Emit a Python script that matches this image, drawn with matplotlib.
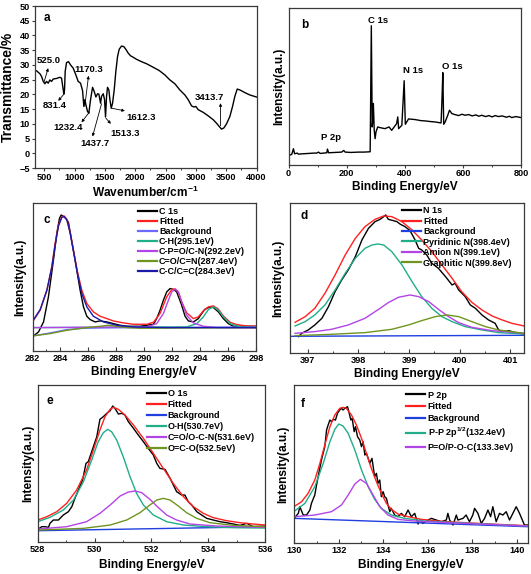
import matplotlib
matplotlib.use('Agg')
import matplotlib.pyplot as plt
from matplotlib.ticker import MultipleLocator

plt.rcParams['font.family'] = ['Liberation Sans', 'DejaVu Sans']
plt.rcParams['font.weight'] = 'bold'
plt.rcParams['axes.labelweight'] = 'bold'
plt.rcParams['mathtext.fontset'] = 'custom'
plt.rcParams['mathtext.rm'] = 'Liberation Sans:bold'
plt.rcParams['mathtext.bf'] = 'Liberation Sans:bold'
plt.rcParams['mathtext.default'] = 'bf'

# ---------------- data: (a) FTIR ----------------
ftir_wn = [374, 429, 456, 484, 511, 538, 566, 593, 621, 648, 703, 758, 786, 802, 824, 835, 846, 868, 901, 934,
           978, 1022, 1060, 1099, 1132, 1154, 1170, 1187, 1214, 1236, 1264, 1297, 1324, 1352, 1379, 1401, 1429,
           1445, 1473, 1495, 1511, 1528, 1544, 1566, 1583, 1605, 1627, 1654, 1681, 1709, 1736, 1775, 1813, 1846,
           1885, 1923, 1967, 2022, 2104, 2187, 2297, 2396, 2489, 2572, 2654, 2736, 2819, 2874, 2929, 2967, 3000,
           3039, 3121, 3204, 3286, 3341, 3385, 3424, 3462, 3506, 3561, 3605, 3643, 3682, 3726, 3808, 3890, 4000]
ftir_T = [28.0, 27.0, 26.1, 24.4, 23.6, 24.4, 23.8, 24.9, 24.4, 25.2, 25.4, 25.8, 25.5, 23.2, 20.1, 21.5, 27.8,
          30.8, 31.1, 30.0, 28.9, 26.6, 24.4, 23.8, 21.3, 15.9, 18.2, 16.5, 14.2, 13.6, 18.2, 22.4, 21.0, 19.1,
          20.2, 20.1, 17.0, 19.3, 20.2, 18.2, 12.3, 19.3, 22.4, 21.5, 18.2, 15.3, 17.0, 21.5, 27.8, 32.8, 35.3,
          36.4, 36.2, 35.3, 34.0, 33.1, 32.6, 31.9, 31.1, 30.4, 29.2, 28.1, 26.6, 24.9, 23.6, 21.5, 19.8, 18.2,
          16.1, 15.7, 15.9, 14.8, 13.9, 12.7, 11.4, 10.2, 9.1, 8.2, 8.6, 10.0, 12.5, 15.9, 19.3, 21.8, 21.5,
          20.6, 19.8, 19.1]
ftir_labels = ['525.0', '831.4', '1170.3', '1232.4', '1437.7', '1513.3', '1612.3', '3413.7']
ftir_label_xy = [(566, 31.4), (676, 16.1), (1242, 28.3), (896, 8.9), (1335, 3.25), (1830, 6.6), (2105, 12.3), (3215, 18.9)]
ftir_arrow_from = [(500, 24.4), (830, 20.2), (1170, 16.1), (1242, 13.9), (1445, 16.8), (1517, 11.9), (1610, 15.3), (3407, 9.35)]
ftir_arrow_to = [(566, 28.9), (731, 17.8), (1231, 26.3), (1115, 10.5), (1297, 5.7), (1599, 10.0), (1830, 14.4), (3407, 17.0)]

# ---------------- data: (b) survey ----------------
surv_be = [0, 11, 17, 21, 30, 34, 50, 69, 85, 97, 103, 109, 120, 132, 134, 138, 160, 183, 190, 195, 215, 241,
           260, 281, 285, 288, 290, 292, 295, 298, 301, 307, 315, 332, 346, 355, 372, 376, 379, 390, 398, 402,
           413, 436, 455, 470, 490, 504, 525, 528, 531, 534, 539, 548, 554, 562, 572, 585, 597, 607, 620, 632,
           645, 655, 665, 678, 690, 700, 712, 722, 735, 750, 760, 768, 782, 800]
surv_I = [27, 30, 47, 32, 34, 31, 32, 33, 34, 34, 37, 33, 34, 35, 46, 35, 36, 37, 42, 37, 36, 37, 37, 38, 414,
          112, 132, 182, 102, 77, 97, 112, 110, 107, 112, 102, 122, 142, 107, 117, 250, 120, 136, 134, 131, 130,
          128, 127, 124, 192, 274, 120, 127, 147, 162, 152, 149, 146, 150, 147, 149, 145, 148, 144, 147, 143, 146,
          142, 146, 143, 145, 141, 144, 140, 143, 140]
surv_peaks = ['C 1s', 'N 1s', 'O 1s', 'P 2p']
surv_peak_xy = [(309, 430), (430, 280), (565, 292), (147, 80)]

# ---------------- data: (c) C 1s ----------------
c_raw_x = [282.07, 282.43, 282.79, 283.14, 283.50, 283.74, 283.93, 284.05, 284.22, 284.41, 284.58, 284.69, 285.05,
           285.41, 285.65, 285.89, 286.13, 286.48, 286.84, 287.32, 287.79, 288.27, 288.75, 289.70, 290.18, 290.66,
           290.89, 291.13, 291.37, 291.61, 291.85, 292.09, 292.32, 292.68, 292.92, 293.16, 293.52, 293.87, 294.11,
           294.35, 294.71, 294.95, 295.31, 295.66, 296.02, 296.37, 297.09, 298.00]
c_raw_y = [45, 57, 87, 162, 272, 352, 397, 407, 403, 396, 384, 357, 272, 182, 132, 104, 94, 87, 90, 87, 82, 77,
           74, 74, 77, 80, 97, 122, 152, 177, 187, 184, 177, 137, 104, 90, 87, 97, 112, 125, 132, 130, 117, 97,
           82, 74, 74, 74]
c_fit_x = [282.00, 282.55, 283.03, 283.38, 283.62, 283.86, 284.10, 284.27, 284.46, 284.69, 284.93, 285.22, 285.53,
           285.89, 286.36, 286.84, 287.32, 287.79, 288.51, 289.22, 290.18, 290.66, 291.13, 291.61, 291.97, 292.21,
           292.44, 292.68, 293.04, 293.52, 293.87, 294.23, 294.59, 294.95, 295.31, 295.66, 296.14, 296.62, 297.33,
           298.00]
c_fit_y = [87, 122, 182, 252, 322, 377, 402, 404, 394, 357, 302, 237, 182, 142, 117, 104, 97, 90, 84, 80, 80, 86,
           112, 162, 184, 186, 177, 147, 114, 97, 102, 120, 132, 135, 125, 105, 86, 79, 75, 74]
c_bg_x = [282.00, 283.26, 284.46, 285.65, 286.84, 289.22, 298.00]
c_bg_y = [45, 54, 64, 68, 69, 70, 72]
c_ch_x = [282.00, 293.04, 293.76, 294.23, 294.59, 294.95, 295.31, 295.66, 296.14, 296.86, 298.00]
c_ch_y = [70, 72, 82, 102, 124, 132, 122, 102, 82, 72, 70]
c_cp_x = [282.00, 290.18, 290.89, 291.37, 291.73, 291.97, 292.21, 292.44, 292.68, 293.04, 293.52, 294.23, 295.19, 298.00]
c_cp_y = [70, 72, 82, 112, 152, 177, 185, 177, 147, 107, 84, 74, 70, 69]
c_co_x = [282.00, 283.26, 284.46, 285.65, 286.84, 287.39, 288.03, 288.75, 289.70, 298.00]
c_co_y = [45, 52, 62, 69, 74, 77, 74, 70, 68, 70]
c_cc_x = [282.00, 282.55, 283.03, 283.38, 283.62, 283.86, 284.10, 284.27, 284.46, 284.69, 284.93, 285.22, 285.53,
          285.89, 286.36, 287.08, 288.03, 289.22, 291.61, 298.00]
c_cc_y = [89, 124, 182, 250, 317, 374, 400, 402, 392, 354, 299, 232, 172, 132, 104, 87, 77, 72, 70, 70]
c_names = ['C 1s', 'Fitted', 'Background', 'C-H(295.1eV)', 'C-P=O/C-N(292.2eV)', 'C=O/C=N(287.4eV)', 'C-C/C=C(284.3eV)']

# ---------------- data: (d) N 1s ----------------
d_raw_x = [396.82, 396.88, 397.01, 397.14, 397.28, 397.41, 397.54, 397.67, 397.80, 397.94, 398.07, 398.20, 398.33,
           398.43, 398.50, 398.54, 398.59, 398.69, 398.76, 398.83, 398.92, 399.02, 399.12, 399.19, 399.25, 399.35,
           399.45, 399.58, 399.72, 399.85, 399.91, 399.98, 400.11, 400.21, 400.31, 400.44, 400.57, 400.70, 400.77,
           400.84, 400.97, 401.10, 401.27]
d_raw_y = [50, 60, 70, 85, 105, 140, 185, 220, 250, 290, 340, 375, 395, 402, 410, 415, 402, 398, 395, 387, 380,
           368, 340, 315, 310, 295, 270, 255, 230, 205, 210, 190, 170, 145, 135, 115, 100, 90, 70, 65, 68, 62, 58]
d_fit_x = [396.75, 396.95, 397.14, 397.34, 397.54, 397.74, 397.94, 398.13, 398.33, 398.50, 398.66, 398.86, 399.06,
           399.25, 399.45, 399.65, 399.85, 400.04, 400.24, 400.44, 400.64, 400.84, 401.03, 401.27]
d_fit_y = [93, 110, 135, 180, 235, 295, 345, 380, 402, 412, 410, 395, 370, 340, 305, 265, 225, 185, 153, 130, 112,
           100, 90, 82]
d_bg_x = [396.65, 401.27]
d_bg_y = [51, 54]
d_pyr_x = [396.75, 396.95, 397.14, 397.34, 397.54, 397.74, 397.94, 398.13, 398.27, 398.38, 398.50, 398.66, 398.86,
           399.06, 399.25, 399.45, 399.65, 399.85, 400.11, 400.44, 400.77, 401.27]
d_pyr_y = [82, 95, 115, 145, 190, 240, 285, 315, 325, 328, 325, 305, 265, 215, 170, 135, 110, 95, 80, 70, 62, 58]
d_am_x = [396.75, 397.14, 397.47, 397.80, 398.13, 398.40, 398.59, 398.79, 399.02, 399.19, 399.39, 399.58, 399.78,
          399.98, 400.24, 400.64, 401.27]
d_am_y = [60, 65, 72, 85, 105, 132, 152, 168, 175, 170, 155, 132, 110, 92, 78, 68, 60]
d_gr_x = [396.75, 397.47, 398.13, 398.66, 398.99, 399.25, 399.52, 399.75, 399.98, 400.24, 400.51, 400.77, 401.27]
d_gr_y = [53, 57, 62, 72, 85, 98, 110, 115, 110, 95, 80, 70, 60]
d_names = ['N 1s', 'Fitted', 'Background', 'Pyridinic N(398.4eV)', 'Amion N(399.1eV)', 'Graphitic N(399.8eV)']

# ---------------- data: (e) O 1s ----------------
e_raw_x = [528.06, 528.14, 528.26, 528.38, 528.43, 528.55, 528.73, 528.90, 529.08, 529.20, 529.31, 529.43, 529.58,
           529.70, 529.78, 529.90, 530.08, 530.19, 530.31, 530.43, 530.55, 530.64, 530.72, 530.84, 530.96, 531.07,
           531.19, 531.37, 531.54, 531.72, 531.89, 532.07, 532.19, 532.30, 532.48, 532.66, 532.89, 533.07, 533.18,
           533.30, 533.42, 533.60, 533.77, 533.95, 534.18, 534.42, 534.65, 534.89, 535.12, 535.36, 535.59, 536.00]
e_raw_y = [40, 45, 45, 43, 55, 65, 65, 80, 90, 105, 130, 155, 185, 235, 240, 270, 315, 367, 375, 385, 393, 407,
           400, 383, 385, 380, 360, 340, 320, 300, 280, 260, 235, 220, 217, 190, 150, 140, 140, 120, 110, 90, 80,
           70, 65, 60, 57, 53, 49, 55, 45, 47]
e_fit_x = [528.00, 528.32, 528.67, 529.02, 529.37, 529.72, 529.96, 530.19, 530.37, 530.55, 530.66, 530.84, 531.07,
           531.37, 531.72, 532.07, 532.42, 532.77, 533.13, 533.48, 533.83, 534.18, 534.65, 535.12, 535.59, 536.00]
e_fit_y = [65, 75, 90, 115, 155, 215, 275, 335, 375, 397, 403, 397, 380, 350, 310, 265, 220, 175, 135, 105, 85,
           72, 63, 57, 53, 50]
e_bg_x = [528.00, 536.00]
e_bg_y = [33, 45]
e_oh_x = [528.00, 528.43, 528.90, 529.26, 529.61, 529.90, 530.13, 530.31, 530.46, 530.60, 530.78, 531.01, 531.25,
          531.48, 531.72, 532.07, 532.54, 533.13, 533.95, 534.89, 536.00]
e_oh_y = [60, 73, 95, 125, 180, 245, 300, 327, 337, 330, 305, 255, 195, 145, 110, 80, 60, 50, 45, 42, 41]
e_co_x = [528.00, 529.02, 529.72, 530.19, 530.55, 530.90, 531.19, 531.43, 531.66, 531.95, 532.25, 532.54, 532.89,
          533.36, 534.30, 536.00]
e_co_y = [38, 45, 60, 85, 110, 137, 149, 152, 147, 127, 102, 80, 65, 53, 47, 43]
e_oco_x = [528.00, 529.61, 530.55, 531.13, 531.60, 531.95, 532.19, 532.42, 532.66, 532.95, 533.24, 533.60, 534.06,
           534.89, 536.00]
e_oco_y = [35, 40, 50, 65, 87, 110, 125, 130, 125, 107, 87, 70, 57, 49, 45]
e_names = ['O 1s', 'Fitted', 'Background', 'O-H(530.7eV)', 'C=O/O-C-N(531.6eV)', 'O=C-O(532.5eV)']

# ---------------- data: (f) P 2p ----------------
f_raw_x = [130.03, 130.18, 130.25, 130.40, 130.55, 130.70, 130.77, 130.92, 131.00, 131.07, 131.22, 131.37, 131.45,
           131.52, 131.60, 131.67, 131.75, 131.85, 131.94, 132.04, 132.12, 132.19, 132.27, 132.39, 132.45, 132.54,
           132.60, 132.69, 132.75, 132.84, 132.94, 133.02, 133.09, 133.17, 133.24, 133.32, 133.39, 133.49, 133.61,
           133.69, 133.76, 133.84, 133.91, 133.99, 134.06, 134.14, 134.21, 134.29, 134.36, 134.51, 134.66, 134.81,
           134.96, 135.11, 135.26, 135.41, 135.56, 135.63, 135.78, 136.01, 136.16, 136.38, 136.60, 136.83, 136.90,
           136.98, 137.13, 137.28, 137.35, 137.58, 137.72, 137.87, 138.02, 138.10, 138.25, 138.40, 138.55, 138.70,
           138.82, 138.92, 139.07, 139.22, 139.37, 139.52, 139.67, 139.82, 139.97, 140.12, 140.34, 140.49]
f_raw_y = [76, 88, 108, 83, 83, 98, 118, 143, 173, 198, 248, 288, 338, 353, 368, 363, 370, 368, 388, 398, 403,
           398, 403, 408, 393, 368, 373, 333, 348, 318, 308, 288, 303, 263, 268, 253, 238, 253, 198, 208, 178, 188,
           138, 153, 138, 133, 113, 93, 103, 83, 78, 88, 78, 98, 78, 88, 56, 68, 58, 68, 73, 68, 63, 68, 88, 68,
           53, 83, 68, 73, 83, 63, 83, 103, 88, 58, 73, 98, 78, 108, 63, 88, 83, 93, 68, 88, 108, 88, 53, 53]
f_fit_x = [130.03, 130.33, 130.62, 130.92, 131.15, 131.37, 131.60, 131.82, 132.04, 132.19, 132.34, 132.57, 132.79,
           133.02, 133.24, 133.46, 133.69, 133.91, 134.14, 134.36, 134.66, 135.11, 135.71, 136.45, 137.65, 139.14,
           140.49]
f_fit_y = [110, 123, 148, 188, 238, 293, 348, 383, 403, 406, 403, 383, 353, 313, 268, 223, 183, 148, 118, 100, 86,
           78, 70, 65, 60, 55, 51]
f_bg_x = [130.00, 140.49]
f_bg_y = [73, 48]
f_pp_x = [130.03, 130.48, 130.92, 131.30, 131.60, 131.82, 132.00, 132.19, 132.42, 132.72, 133.02, 133.32, 133.61,
          133.91, 134.36, 134.96, 135.86, 137.35, 140.49]
f_pp_y = [96, 118, 168, 238, 303, 340, 356, 350, 328, 278, 218, 168, 130, 103, 83, 73, 65, 60, 50]
f_po_x = [130.03, 130.92, 131.67, 132.12, 132.42, 132.72, 132.97, 133.24, 133.54, 133.84, 134.21, 134.66, 135.41,
          136.90, 140.49]
f_po_y = [78, 83, 93, 113, 143, 176, 190, 178, 143, 108, 83, 70, 65, 60, 50]
f_names = ['P 2p', 'Fitted', 'Background', r'P-P 2p$^{1/2}$(132.4eV)', 'P=O/P-O-C(133.3eV)']

# ---------------- styling ----------------
W, H = 531, 574
fig = plt.figure(figsize=(W / 100, H / 100), dpi=100)

BLACK = '#000000'
RED = '#ff2020'
BLUE = '#1f3fe0'
PERI = '#6a6aff'
TEAL = '#1fae88'
PURPLE = '#b444e6'
OLIVE = '#6f9420'
NAVY = '#1a1aaa'
SPINE = '#3a3a3a'
TICKFS = 6.6
LABFS = 8.6
LEGFS = 6.5


def make_axes(l, t, r, b):
    ax = fig.add_axes([l / W, 1 - b / H, (r - l) / W, (b - t) / H])
    for s in ax.spines.values():
        s.set_color(SPINE)
        s.set_linewidth(0.9)
    ax._px = (l, t, r, b)
    return ax


def place_labels(ax, xlabel, xlab_y, ylabel, ylab_x, yfs=LABFS):
    l, t, r, b = ax._px
    ax.set_xlabel(xlabel, fontsize=LABFS, fontweight='bold', va='center')
    ax.xaxis.set_label_coords(0.5, (b - xlab_y) / (b - t))
    ax.set_ylabel(ylabel, fontsize=yfs, fontweight='bold', va='center')
    ax.yaxis.set_label_coords((ylab_x - l) / (r - l), 0.5)


def panel_letter(ax, letter, px, py):
    fig.text(px / W, 1 - py / H, letter, fontsize=8.5, fontweight='bold', ha='center', va='center')


def xps_ticks(ax, major, minor):
    ax.xaxis.set_major_locator(MultipleLocator(major))
    ax.xaxis.set_minor_locator(MultipleLocator(minor))
    ax.set_yticks([])
    ax.tick_params(axis='x', which='both', direction='in', top=False, colors=SPINE, labelcolor='black',
                   labelsize=TICKFS, pad=2.3)
    ax.tick_params(axis='x', which='major', length=3, width=0.8)
    ax.tick_params(axis='x', which='minor', length=1.8, width=0.7)
    for lab in ax.get_xticklabels():
        lab.set_fontweight('bold')


def xps_legend(ax, lines, names, ax_x, ax_y, spacing):
    leg = ax.legend(lines, names, loc='upper left', bbox_to_anchor=(ax_x, ax_y), frameon=False,
                    fontsize=LEGFS, handlelength=2.1, handletextpad=0.25, labelspacing=spacing,
                    borderpad=0, borderaxespad=0)
    for h in leg.get_lines():
        h.set_linewidth(1.6)
    for txt in leg.get_texts():
        txt.set_fontweight('bold')


LW = 1.0

# ---------------- (a) ----------------
axa = make_axes(34.5, 6, 256.5, 168)
axa.plot(ftir_wn, ftir_T, color=BLACK, lw=LW)
axa.set_xlim(340, 4000)
axa.set_ylim(-5, 50)
axa.xaxis.set_major_locator(MultipleLocator(500))
axa.xaxis.set_minor_locator(MultipleLocator(250))
axa.yaxis.set_major_locator(MultipleLocator(5))
axa.tick_params(which='both', direction='out', top=False, right=False, colors=SPINE, labelcolor='black',
                labelsize=TICKFS, pad=1.0)
axa.tick_params(which='major', length=2.5, width=0.8)
axa.tick_params(which='minor', length=1.5, width=0.7)
axa.set_xticks([500, 1000, 1500, 2000, 2500, 3000, 3500, 4000])
for lab in axa.get_xticklabels() + axa.get_yticklabels():
    lab.set_fontweight('bold')
for name, (tx, ty), p0, p1 in zip(ftir_labels, ftir_label_xy, ftir_arrow_from, ftir_arrow_to):
    axa.text(tx, ty, name, fontsize=6.8, fontweight='bold', ha='center', va='center')
    axa.annotate('', xy=p1, xytext=p0,
                 arrowprops=dict(arrowstyle='-|>', color=BLACK, lw=0.6, mutation_scale=4, shrinkA=0, shrinkB=0))
place_labels(axa, 'Wavenumber/cm$^{-1}$', 192, 'Transmittance/%', 7.5, yfs=10)
panel_letter(axa, 'a', 46.7, 18.3)

# ---------------- (b) ----------------
axb = make_axes(288.5, 8, 521, 164.5)
axb.plot(surv_be, surv_I, color=BLACK, lw=LW)
axb.set_xlim(0, 800)
axb.set_ylim(0, 467)
axb.xaxis.set_major_locator(MultipleLocator(200))
axb.xaxis.set_minor_locator(MultipleLocator(100))
axb.set_yticks([])
axb.tick_params(axis='x', which='both', direction='out', top=False, colors=SPINE, labelcolor='black',
                labelsize=TICKFS, pad=1.0)
axb.tick_params(axis='x', which='major', length=2.5, width=0.8)
axb.tick_params(axis='x', which='minor', length=1.5, width=0.7)
for lab in axb.get_xticklabels():
    lab.set_fontweight('bold')
for name, (tx, ty) in zip(surv_peaks, surv_peak_xy):
    axb.text(tx, ty, name, fontsize=6.8, fontweight='bold', ha='center', va='center')
place_labels(axb, 'Binding Energy/eV', 187, 'Intensity(a.u.)', 279)
panel_letter(axb, 'b', 304.3, 25)

# ---------------- (c) ----------------
axc = make_axes(32.5, 203.3, 256, 351)
lc = []
lc += axc.plot(c_raw_x, c_raw_y, color=BLACK, lw=LW)
lc += axc.plot(c_fit_x, c_fit_y, color=RED, lw=LW)
lc += axc.plot(c_bg_x, c_bg_y, color=PERI, lw=LW)
lc += axc.plot(c_ch_x, c_ch_y, color=TEAL, lw=LW)
lc += axc.plot(c_cp_x, c_cp_y, color=PURPLE, lw=LW)
lc += axc.plot(c_co_x, c_co_y, color=OLIVE, lw=LW)
lc += axc.plot(c_cc_x, c_cc_y, color=NAVY, lw=LW)
axc.set_xlim(282, 298)
axc.set_ylim(0, 442)
xps_ticks(axc, 2, 1)
xps_legend(axc, lc, c_names, 0.471, 0.975, 0.12)
place_labels(axc, 'Binding Energy/eV', 371.7, 'Intensity(a.u.)', 20)
panel_letter(axc, 'c', 46.7, 220)

# ---------------- (d) ----------------
axd = make_axes(290, 203.3, 524, 353.3)
ld = []
ld += axd.plot(d_raw_x, d_raw_y, color=BLACK, lw=LW)
ld += axd.plot(d_fit_x, d_fit_y, color=RED, lw=LW)
ld += axd.plot(d_bg_x, d_bg_y, color=BLUE, lw=LW)
ld += axd.plot(d_pyr_x, d_pyr_y, color=TEAL, lw=LW)
ld += axd.plot(d_am_x, d_am_y, color=PURPLE, lw=LW)
ld += axd.plot(d_gr_x, d_gr_y, color=OLIVE, lw=LW)
axd.set_xlim(396.65, 401.27)
axd.set_ylim(0, 450)
xps_ticks(axd, 1, 0.5)
xps_legend(axd, ld, d_names, 0.478, 0.98, 0.16)
place_labels(axd, 'Binding Energy/eV', 374, 'Intensity(a.u.)', 278)
panel_letter(axd, 'd', 304.3, 216)

# ---------------- (e) ----------------
axe = make_axes(37.7, 385, 265, 541.7)
le = []
le += axe.plot(e_raw_x, e_raw_y, color=BLACK, lw=LW)
le += axe.plot(e_fit_x, e_fit_y, color=RED, lw=LW)
le += axe.plot(e_bg_x, e_bg_y, color=BLUE, lw=LW)
le += axe.plot(e_oh_x, e_oh_y, color=TEAL, lw=LW)
le += axe.plot(e_co_x, e_co_y, color=PURPLE, lw=LW)
le += axe.plot(e_oco_x, e_oco_y, color=OLIVE, lw=LW)
axe.set_xlim(528, 536)
axe.set_ylim(0, 470)
xps_ticks(axe, 2, 1)
xps_legend(axe, le, e_names, 0.479, 0.975, 0.22)
place_labels(axe, 'Binding Energy/eV', 565, 'Intensity(a.u.)', 28)
panel_letter(axe, 'e', 50, 400.7)

# ---------------- (f) ----------------
axf = make_axes(294.3, 385, 528, 542.7)
lf = []
lf += axf.plot(f_raw_x, f_raw_y, color=BLACK, lw=LW)
lf += axf.plot(f_fit_x, f_fit_y, color=RED, lw=LW)
lf += axf.plot(f_bg_x, f_bg_y, color=BLUE, lw=LW)
lf += axf.plot(f_pp_x, f_pp_y, color=TEAL, lw=LW)
lf += axf.plot(f_po_x, f_po_y, color=PURPLE, lw=LW)
axf.set_xlim(130.0, 140.5)
axf.set_ylim(0, 473)
xps_ticks(axf, 2, 1)
xps_legend(axf, lf, f_names, 0.48, 0.965, 0.3)
place_labels(axf, 'Binding Energy/eV', 565, 'Intensity(a.u.)', 283)
panel_letter(axf, 'f', 302.3, 404)

fig.savefig('out.png', dpi=100)
